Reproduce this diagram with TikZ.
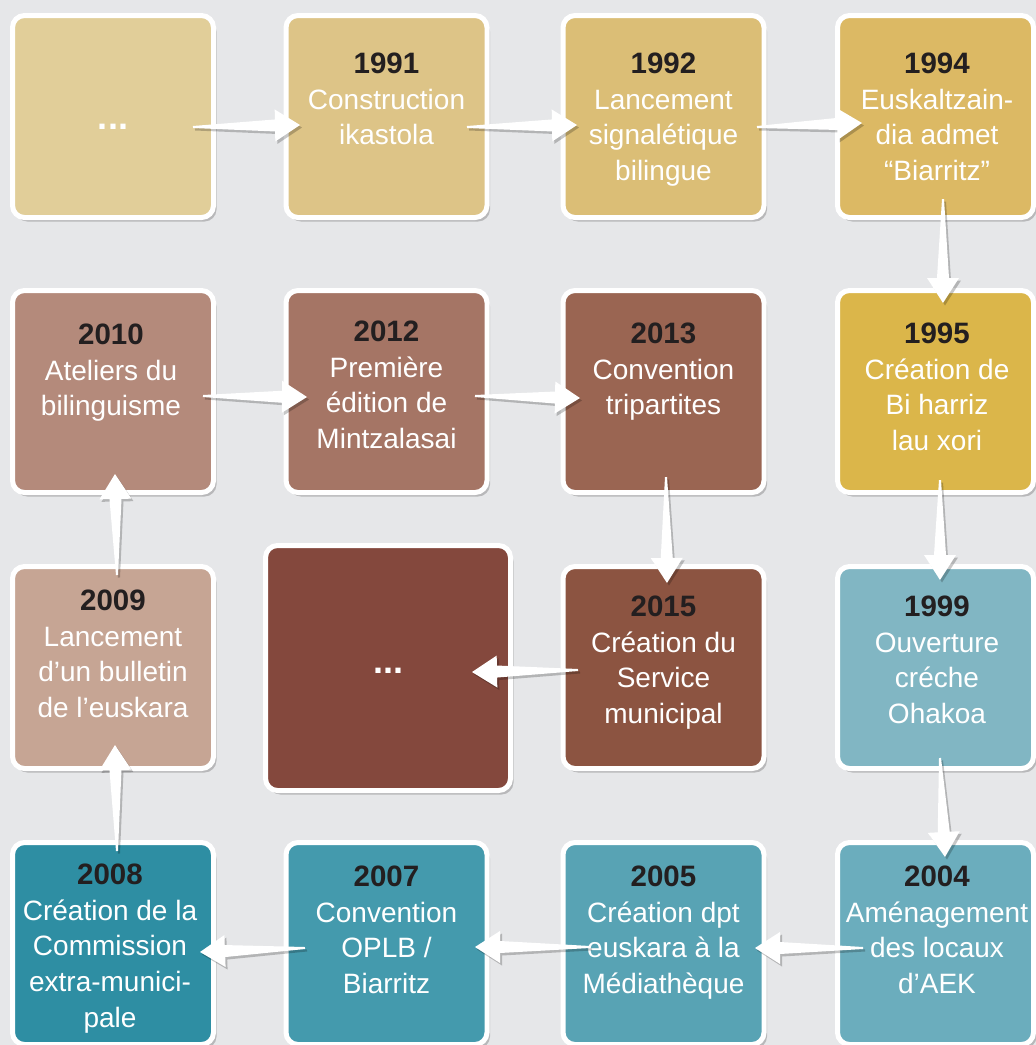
\documentclass[tikz,border=0pt]{standalone}
\usepackage{fontspec}
\setmainfont{Liberation Sans}
\usetikzlibrary{calc,shadows}
\definecolor{bg}{HTML}{E6E7E9}
\definecolor{yearc}{HTML}{231F20}
\definecolor{cA}{HTML}{E1CE99}
\definecolor{cB}{HTML}{DDC487}
\definecolor{cC}{HTML}{DBBE76}
\definecolor{cD}{HTML}{DCB964}
\definecolor{cE}{HTML}{DBB64A}
\definecolor{cF}{HTML}{81B6C3}
\definecolor{cG}{HTML}{6BADBD}
\definecolor{cH}{HTML}{58A3B4}
\definecolor{cI}{HTML}{449AAD}
\definecolor{cJ}{HTML}{2E8EA3}
\definecolor{cK}{HTML}{C6A594}
\definecolor{cL}{HTML}{B48A7B}
\definecolor{cM}{HTML}{A57565}
\definecolor{cN}{HTML}{9A6552}
\definecolor{cO}{HTML}{8C5441}
\definecolor{cP}{HTML}{84483D}
\newcommand\yr[1]{{\fontsize{29.5}{35.7}\selectfont\bfseries\color{yearc}#1}}
\newcommand\tarr[2]{%
  \fill[white, drop shadow={shadow xshift=2pt,shadow yshift=-2.5pt,opacity=.22,fill=black}]
    ($(#1)!1pt!90:(#2)$) -- ($(#2)!25pt!(#1)!6pt!90:(#2)$) -- ($(#2)!25pt!(#1)!16pt!90:(#2)$) -- (#2)
    -- ($(#2)!25pt!(#1)!16pt!-90:(#2)$) -- ($(#2)!25pt!(#1)!6pt!-90:(#2)$) -- ($(#1)!1pt!-90:(#2)$) -- cycle;}
\begin{document}
\begin{tikzpicture}[x=1pt,y=-1pt,
  box/.style={draw=white, line width=5pt, rounded corners=12pt,
    minimum width=201pt, minimum height=202pt, inner sep=0pt,
    drop shadow={shadow xshift=3pt,shadow yshift=-4pt,opacity=.2,fill=black}},
  narrowbox/.style={box, minimum width=196pt},
  txt/.style={align=center, text=white, font=\fontsize{28}{35.7}\selectfont,
    inner sep=0pt, anchor=north},
  dots/.style={text=white, font=\fontsize{36}{38}\selectfont\bfseries, inner sep=0pt, anchor=base}]
\fill[bg] (0,0) rectangle (1036,1045);
\useasboundingbox (0,0) rectangle (1036,1045);

% boxes
\node[box, fill=cA] (b11) at (113,116.5) {};
\node[box, fill=cB] (b12) at (386.5,116.5) {};
\node[box, fill=cC] (b13) at (663.5,116.5) {};
\node[narrowbox, fill=cD] (b14) at (935.5,116.5) {};
\node[narrowbox, fill=cE] (b24) at (935.5,391.5) {};
\node[narrowbox, fill=cF] (b34) at (935.5,667.5) {};
\node[narrowbox, fill=cG] (b44) at (935.5,943.5) {};
\node[box, fill=cH] (b43) at (663.5,943.5) {};
\node[box, fill=cI] (b42) at (386.5,943.5) {};
\node[box, fill=cJ] (b41) at (113,943.5) {};
\node[box, fill=cK] (b31) at (113,667.5) {};
\node[box, fill=cL] (b21) at (113,391.5) {};
\node[box, fill=cM] (b22) at (386.5,391.5) {};
\node[box, fill=cN] (b23) at (663.5,391.5) {};
\node[box, fill=cO] (b33) at (663.5,667.5) {};
\node[box, fill=cP, minimum width=245pt, minimum height=245pt] (big) at (388,668) {};

% texts
\node[dots] (t11) at (113,129) {...};
\node[txt] (t12) at (386.5,52.5) {\yr{1991}\\Construction\\ikastola};
\node[txt] (t13) at (663.5,52.5) {\yr{1992}\\Lancement\\signalétique\\bilingue};
\node[txt] (t14) at (937,52.5) {\yr{1994}\\Euskaltzain-\\dia admet\\“Biarritz”};
\node[txt] (t24) at (937,322.5) {\yr{1995}\\Création de\\Bi harriz\\lau xori};
\node[txt] (t34) at (937,595.5) {\yr{1999}\\Ouverture\\créche\\Ohakoa};
\node[txt] (t44) at (937,865.5) {\yr{2004}\\Aménagement\\des locaux\\d’AEK};
\node[txt] (t43) at (663.5,865.5) {\yr{2005}\\Création dpt\\euskara à la\\Médiathèque};
\node[txt] (t42) at (386.5,865.5) {\yr{2007}\\Convention\\OPLB /\\Biarritz};
\node[txt] (t41) at (110,863.5) {\yr{2008}\\Création de la\\Commission\\extra-munici-\\pale};
\node[txt] (t31) at (113,589.5) {\yr{2009}\\Lancement\\d’un bulletin\\de l’euskara};
\node[txt] (t21) at (111,323.5) {\yr{2010}\\Ateliers du\\bilinguisme};
\node[txt] (t22) at (386.5,320.5) {\yr{2012}\\Première\\édition de\\Mintzalasai};
\node[txt] (t23) at (663.5,322.5) {\yr{2013}\\Convention\\tripartites};
\node[txt] (t33) at (663.5,595.5) {\yr{2015}\\Création du\\Service\\municipal};
\node[dots] (tbig) at (388.5,673) {...};

% arrow end points
\coordinate (s1) at ($(b11.center)+(80,10.5)$);   \coordinate (e1) at ($(b12.center)+(-86.5,8.5)$);
\coordinate (s2) at ($(b12.center)+(80.5,10.5)$); \coordinate (e2) at ($(b13.center)+(-86.5,8.5)$);
\coordinate (s3) at ($(b13.center)+(93.5,10.5)$); \coordinate (e3) at ($(b14.center)+(-73.5,6.5)$);
\coordinate (s4) at ($(b14.center)+(7.5,82.5)$);  \coordinate (e4) at ($(b24.center)+(7.5,-88.5)$);
\coordinate (s5) at ($(b24.center)+(4.5,88.5)$);  \coordinate (e5) at ($(b34.center)+(4.5,-87.5)$);
\coordinate (s6) at ($(b34.center)+(4.5,90.5)$);  \coordinate (e6) at ($(b44.center)+(9.5,-86.5)$);
\coordinate (s7) at ($(b44.center)+(-72.5,4.5)$); \coordinate (e7) at ($(b43.center)+(91.5,4.5)$);
\coordinate (s8) at ($(b43.center)+(-73.5,3.5)$); \coordinate (e8) at ($(b42.center)+(88.5,3.5)$);
\coordinate (s9) at ($(b42.center)+(-81.5,4.5)$); \coordinate (e9) at ($(b41.center)+(87,8.5)$);
\coordinate (s10) at ($(b41.center)+(4,-92.5)$);  \coordinate (e10) at ($(b31.center)+(2,77.5)$);
\coordinate (s11) at ($(b31.center)+(4,-92.5)$);  \coordinate (e11) at ($(b21.center)+(2,82.5)$);
\coordinate (s12) at ($(b21.center)+(90,4.5)$);   \coordinate (e12) at ($(b22.center)+(-79.5,5.5)$);
\coordinate (s13) at ($(b22.center)+(88.5,4.5)$); \coordinate (e13) at ($(b23.center)+(-83.5,6.5)$);
\coordinate (s14) at ($(b23.center)+(2.5,85.5)$); \coordinate (e14) at ($(b33.center)+(3.5,-84.5)$);
\coordinate (s15) at ($(b33.center)+(-85.5,2.5)$);\coordinate (e15) at ($(big.center)+(84,4)$);

\foreach \i in {1,...,15}{\tarr{s\i}{e\i}}
\end{tikzpicture}
\end{document}
